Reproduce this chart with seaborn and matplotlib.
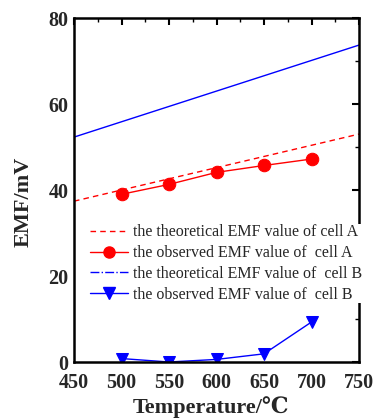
import matplotlib
matplotlib.use("Agg")
import matplotlib.pyplot as plt
import seaborn as sns
import pandas as pd
from matplotlib.lines import Line2D
from matplotlib.ticker import MultipleLocator

sns.set_theme(style="white")
plt.rcParams['font.family'] = ['Liberation Serif', 'DejaVu Serif', 'Noto Sans CJK SC']
plt.rcParams['mathtext.fontset'] = 'stix'

theo_T = [450, 750]
theo_A = [37.4, 53.0]
theo_B = [52.3, 73.7]
obs_T = [500, 550, 600, 650, 700]
obs_A = [39.0, 41.3, 44.1, 45.7, 47.2]
obs_B = [0.8, 0.0, 0.6, 1.9, 9.3]

labels = ["the theoretical EMF value of cell A",
          "the observed EMF value of  cell A",
          "the theoretical EMF value of  cell B",
          "the observed EMF value of  cell B"]

df_theo = pd.DataFrame({"T": theo_T * 2, "EMF": theo_A + theo_B,
                        "s": ["A"] * 2 + ["B"] * 2})
df_obs = pd.DataFrame({"T": obs_T * 2, "EMF": obs_A + obs_B,
                       "s": ["A"] * 5 + ["B"] * 5})

fig = plt.figure(figsize=(3.74, 4.19), dpi=100)
ax = fig.add_axes([74/374, 1 - 362/419, 285/374, 344/419])

sns.lineplot(data=df_theo[df_theo.s == "A"], x="T", y="EMF", ax=ax, color="red",
             linestyle=(0, (4, 3)), linewidth=1.0, legend=False)
sns.lineplot(data=df_theo[df_theo.s == "B"], x="T", y="EMF", ax=ax, color="blue",
             linewidth=1.0, legend=False)
sns.lineplot(data=df_obs[df_obs.s == "A"], x="T", y="EMF", ax=ax, color="red",
             marker="o", markersize=9, markeredgecolor="red", linewidth=1.0, legend=False)
sns.lineplot(data=df_obs[df_obs.s == "B"], x="T", y="EMF", ax=ax, color="blue",
             marker="v", markersize=9, markeredgecolor="blue", linewidth=1.0, legend=False)

ax.set_xlim(450, 750)
ax.set_ylim(0, 80)
ax.xaxis.set_major_locator(MultipleLocator(50))
ax.xaxis.set_minor_locator(MultipleLocator(25))
ax.yaxis.set_major_locator(MultipleLocator(20))
ax.yaxis.set_minor_locator(MultipleLocator(10))
ax.tick_params(which="both", direction="in", top=True, right=True, color="black")
ax.tick_params(which="major", length=5, width=1.5)
ax.tick_params(which="minor", length=3, width=1.0)
ax.tick_params(axis="x", which="major", pad=8)
ax.tick_params(axis="y", which="major", pad=4)
for sp in ax.spines.values():
    sp.set_color("black")
    sp.set_linewidth(1.8)
for lab in ax.get_xticklabels() + ax.get_yticklabels():
    lab.set_fontweight("bold")
    lab.set_fontsize(14.5)
ax.set_xlabel("Temperature/℃", fontsize=16, fontweight="bold")
ax.set_ylabel("EMF/mV", fontsize=16, fontweight="bold")
ax.xaxis.set_label_coords(0.48, -0.10)
ax.yaxis.set_label_coords(-0.14, 0.465)

handles = [
    Line2D([], [], color="red", linestyle=(0, (4, 3)), linewidth=1.0),
    Line2D([], [], color="red", marker="o", markersize=8, linewidth=1.0),
    Line2D([], [], color="blue", linestyle="-.", linewidth=1.0),
    Line2D([], [], color="blue", marker="v", markersize=8, linewidth=1.0),
]
leg = ax.legend(handles, labels, loc="upper left", bbox_to_anchor=(0.056, 0.40),
                frameon=True, facecolor="white", edgecolor="none", framealpha=1,
                fancybox=False, fontsize=11.5, handlelength=2.4, handletextpad=0.3,
                labelspacing=0.3, borderaxespad=0, borderpad=0)
leg.set_zorder(10)

fig.savefig("out.png", dpi=100)
